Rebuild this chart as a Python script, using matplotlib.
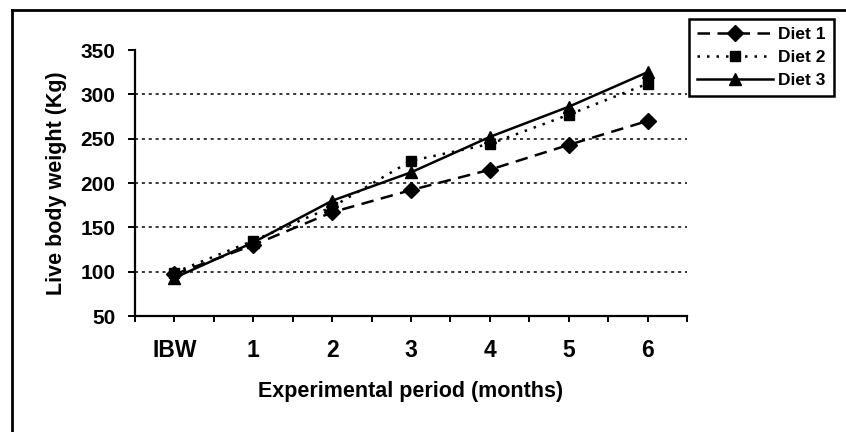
import matplotlib
matplotlib.use("Agg")
import matplotlib.pyplot as plt
from matplotlib.lines import Line2D

categories = ["IBW", "1", "2", "3", "4", "5", "6"]
diet1 = [97, 130, 167, 192, 215, 243, 270]
diet2 = [99, 135, 173, 225, 244, 277, 312]
diet3 = [93, 133, 180, 212, 252, 286, 325]
yticks = [50, 100, 150, 200, 250, 300, 350]

plt.rcParams['font.family'] = ['Liberation Sans', 'DejaVu Sans']
plt.rcParams['font.weight'] = 'bold'

W, H = 846, 432
fig = plt.figure(figsize=(W / 100, H / 100), dpi=100)
ax = fig.add_axes([135 / W, 1 - 316 / H, (687 - 135) / W, (316 - 50) / H])

x = list(range(len(categories)))
ax.plot(x, diet1, color='black', lw=1.8, ls=(0, (5, 3)), marker='D', ms=8, label='Diet 1', zorder=3)
ax.plot(x, diet2, color='black', lw=1.8, ls=(0, (1.0, 2.8)), marker='s', ms=7.5, label='Diet 2', zorder=3)
ax.plot(x, diet3, color='black', lw=1.8, ls='-', marker='^', ms=9, label='Diet 3', zorder=3)

ax.set_xlim(-0.5, len(categories) - 0.5)
ax.set_ylim(50, 350)
ax.set_yticks(yticks)
ax.set_yticklabels([str(v) for v in yticks], fontsize=15, fontweight='bold')
ax.set_xticks(x)
ax.set_xticklabels(categories, fontsize=16.5, fontweight='bold')
ax.set_xticks([i - 0.5 for i in range(len(categories) + 1)], minor=True)
ax.tick_params(axis='x', which='both', direction='out', length=4.5, width=1.4, pad=12)
ax.tick_params(axis='y', direction='out', length=5, width=1.4, pad=9)

for v in yticks[1:-1]:
    ax.axhline(v, color='black', lw=1.1, ls=(0, (2, 2.5)), zorder=0)

ax.spines['top'].set_visible(False)
ax.spines['right'].set_visible(False)
ax.spines['left'].set_linewidth(1.6)
ax.spines['bottom'].set_linewidth(1.6)

ax.set_ylabel("Live body weight (Kg)", fontsize=15.5, fontweight='bold', labelpad=10)
ax.set_xlabel("Experimental period (months)", fontsize=15.5, fontweight='bold', labelpad=14)

# outer chart frame (left and top edges visible, others run off the image)
fig.lines.append(Line2D([12 / W, 12 / W], [0, 1 - 10 / H], transform=fig.transFigure,
                        color='black', lw=2.0))
fig.lines.append(Line2D([12 / W, 1], [1 - 10 / H, 1 - 10 / H], transform=fig.transFigure,
                        color='black', lw=2.0))

leg = fig.legend(loc='upper left', bbox_to_anchor=(689 / W, 1 - 19 / H), frameon=True,
                 fancybox=False, edgecolor='black', fontsize=12.5, handlelength=4.4,
                 handletextpad=0.3, borderpad=0.45, labelspacing=0.45, borderaxespad=0)
leg.get_frame().set_linewidth(1.8)
leg.get_frame().set_alpha(1)
for t in leg.get_texts():
    t.set_fontweight('bold')

fig.savefig("out.png", dpi=100)
